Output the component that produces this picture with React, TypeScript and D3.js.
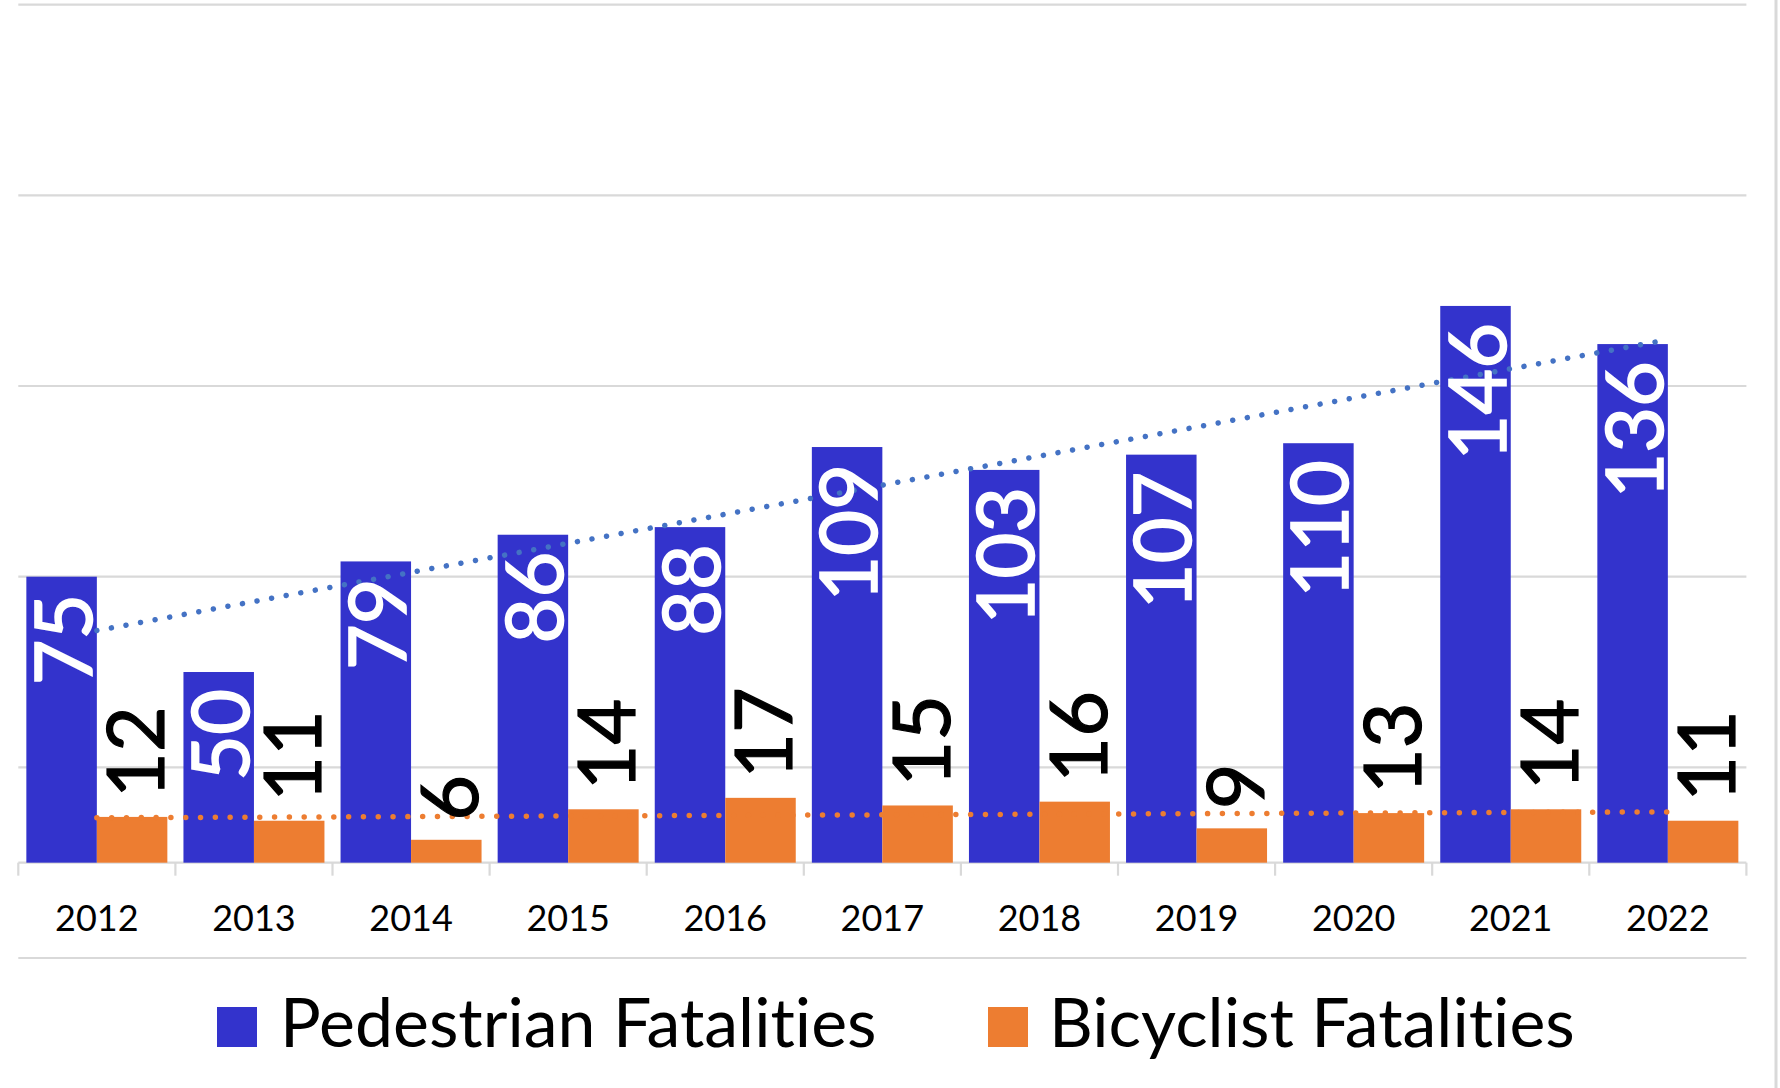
import * as d3 from "d3";

const years = ["2012", "2013", "2014", "2015", "2016", "2017", "2018", "2019", "2020", "2021", "2022"];
const pedestrian = [75, 50, 79, 86, 88, 109, 103, 107, 110, 146, 136];
const bicyclist = [12, 11, 6, 14, 17, 15, 16, 9, 13, 14, 11];
const gridTicks = [-25, 25, 75, 125, 175, 225];
const seriesNames = ["Pedestrian Fatalities", "Bicyclist Fatalities"];

const BLUE = "#3333CC";
const ORANGE = "#ED7D31";
const TREND_BLUE = "#4472C4";
const GRID = "#D9D9D9";
const FONT = "Lato, Calibri, 'Noto Sans', sans-serif";

const W = 1780;
const H = 1088;

// least squares line over category index 1..n (like an Excel linear trendline)
function trend(values: number[]) {
  const xs = values.map((_, i) => i + 1);
  const mx = d3.mean(xs)!;
  const my = d3.mean(values)!;
  const sxy = d3.sum(xs, (x, i) => (x - mx) * (values[i] - my));
  const sxx = d3.sum(xs, (x) => (x - mx) * (x - mx));
  const slope = sxy / sxx;
  return xs.map((x) => my + slope * (x - mx));
}

export default function App() {
  const x = d3.scaleBand<string>().domain(years).range([18.3, 1746.4]).paddingInner(0.1025).paddingOuter(0.05125);
  const step = x.step();
  const catStart = (y: string) => x(y)! - x.paddingInner() * step / 2;
  const sub = d3.scaleBand<number>().domain([0, 1]).range([0, x.bandwidth()]);
  const y = d3.scaleLinear().domain([-25, 225]).range([958, 4.7]);

  const line = d3
    .line<number>()
    .x((_, i) => x(years[i])! + x.bandwidth() / 2)
    .y((v) => y(v));

  const pedTrend = trend(pedestrian);
  const bikeTrend = trend(bicyclist);
  const bw = sub.bandwidth();

  return (
    <svg
      width={W}
      height={H}
      style={{ position: "absolute", left: 0, top: 0, background: "#fff", fontVariantLigatures: "none" }}
      fontFamily={FONT}
    >
      {/* gridlines */}
      {gridTicks.map((t) => (
        <line key={t} x1={18.3} x2={1746.4} y1={y(t)} y2={y(t)} stroke={GRID} strokeWidth={2.2} />
      ))}
      <line x1={1776} x2={1776} y1={0} y2={H} stroke={GRID} strokeWidth={3} />

      {/* category axis at zero */}
      <line x1={18.3} x2={1746.4} y1={y(0)} y2={y(0)} stroke={GRID} strokeWidth={2.2} />
      {years.map((yr) => (
        <line key={"t" + yr} x1={catStart(yr)} x2={catStart(yr)} y1={y(0)} y2={y(0) + 13} stroke={GRID} strokeWidth={2.2} />
      ))}
      <line x1={1746.4} x2={1746.4} y1={y(0)} y2={y(0) + 13} stroke={GRID} strokeWidth={2.2} />
      {years.map((yr) => (
        <text key={"l" + yr} x={x(yr)! + x.bandwidth() / 2} y={931} textAnchor="middle" fontSize={36} fill="#000">
          {yr}
        </text>
      ))}

      {/* bars */}
      {years.map((yr, i) => (
        <g key={"b" + yr}>
          <rect x={x(yr)! + sub(0)!} y={y(pedestrian[i])} width={bw} height={y(0) - y(pedestrian[i])} fill={BLUE} />
          <rect x={x(yr)! + sub(1)!} y={y(bicyclist[i])} width={bw} height={y(0) - y(bicyclist[i])} fill={ORANGE} />
        </g>
      ))}

      {/* trendlines */}
      <path d={line(pedTrend)!} fill="none" stroke={TREND_BLUE} strokeWidth={5.5} strokeLinecap="round" strokeDasharray="0.01 14.8" />
      <path d={line(bikeTrend)!} fill="none" stroke={ORANGE} strokeWidth={5.5} strokeLinecap="round" strokeDasharray="0.01 14.8" />

      {/* data labels */}
      {years.map((yr, i) => {
        const pc = x(yr)! + sub(0)! + bw / 2;
        const bc = x(yr)! + sub(1)! + bw / 2;
        return (
          <g key={"d" + yr} fontSize={79}>
            <text
              transform={`translate(${pc + 30},${y(pedestrian[i]) + 17}) rotate(-90)`}
              textAnchor="end"
              fill="#fff"
              stroke="#fff"
              strokeWidth={1.6}
            >
              {pedestrian[i]}
            </text>
            <text
              transform={`translate(${bc + 32},${y(bicyclist[i]) - 19}) rotate(-90)`}
              textAnchor="start"
              fill="#000"
              stroke="#000"
              strokeWidth={1.2}
            >
              {bicyclist[i]}
            </text>
          </g>
        );
      })}

      {/* legend */}
      <rect x={217} y={1007} width={40} height={40} fill={BLUE} />
      <text x={280} y={1047} fontSize={68} fill="#000">
        {seriesNames[0]}
      </text>
      <rect x={988} y={1007} width={40} height={40} fill={ORANGE} />
      <text x={1049} y={1047} fontSize={68} fill="#000">
        {seriesNames[1]}
      </text>
    </svg>
  );
}
